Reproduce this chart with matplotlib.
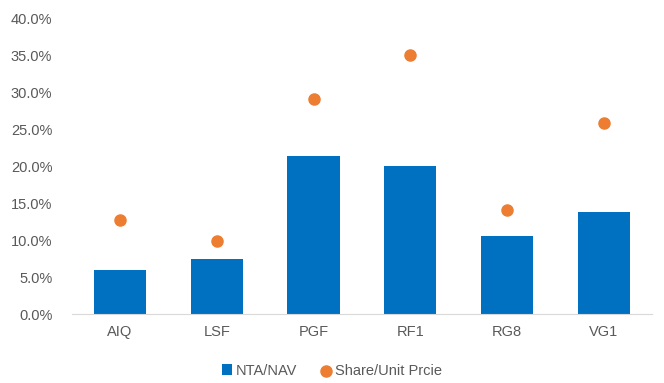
import matplotlib.pyplot as plt
import numpy as np
from matplotlib.ticker import PercentFormatter

plt.rcParams['font.family'] = ['Liberation Sans', 'DejaVu Sans']

# datos
fondos = ['AIQ', 'LSF', 'PGF', 'RF1', 'RG8', 'VG1']
nta_nav = [5.95, 7.4, 21.3, 20.0, 10.5, 13.8]
precio = [12.7, 9.9, 29.0, 35.0, 14.0, 25.8]

gris = '#595959'
x = np.arange(len(fondos))

fig = plt.figure(figsize=(6.64, 3.83), dpi=100)
ax = fig.add_axes([0.108, 0.180, 0.874, 0.773])

barras = ax.bar(x, nta_nav, 0.54, color='#0070C0', label='NTA/NAV', zorder=2)
puntos = ax.scatter(x, precio, s=64, color='#ED7D31', label='Share/Unit Prcie', zorder=3)

ax.set_xlim(-0.5, 5.5)
ax.set_ylim(0, 40)
ax.set_yticks(np.arange(0, 41, 5))
ax.yaxis.set_major_formatter(PercentFormatter(decimals=1))
ax.set_xticks(x)
ax.set_xticklabels(fondos)
ax.tick_params(length=0, labelsize=10.5, colors=gris, pad=8)
ax.tick_params(axis='y', pad=14)

for s in ['top', 'right', 'left']:
    ax.spines[s].set_visible(False)
ax.spines['bottom'].set_color('#D9D9D9')

fig.legend([barras, puntos], ['NTA/NAV', 'Share/Unit Prcie'], loc='lower center',
           bbox_to_anchor=(0.5, -0.02), ncol=2, frameon=False,
           fontsize=10.5, labelcolor=gris, handlelength=0.7, handletextpad=0.3,
           columnspacing=1.6)

plt.savefig('out.png', dpi=100)
